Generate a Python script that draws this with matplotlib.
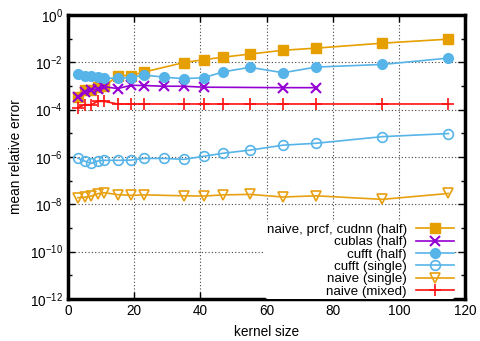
import matplotlib
matplotlib.use("Agg")
import matplotlib.pyplot as plt
import numpy as np

plt.rcParams['font.family'] = ['Liberation Sans', 'DejaVu Sans']
plt.rcParams['mathtext.fontset'] = 'custom'
plt.rcParams['mathtext.rm'] = 'Liberation Sans'

# kernel sizes
k_half = [3, 5, 7, 9, 11, 15, 19, 23, 35, 41, 47, 55, 65, 75, 95, 115]
log_half = [-3.48, -3.16, -3.16, -3.06, -3.02, -2.56, -2.56, -2.41, -2.01, -1.89,
            -1.78, -1.65, -1.49, -1.40, -1.19, -1.02]

k_cublas = [3, 5, 7, 9, 11, 15, 19, 23, 29, 35, 41, 65, 75]
log_cublas = [-3.48, -3.25, -3.16, -3.13, -3.03, -3.11, -2.97, -2.98, -3.01, -3.01,
              -3.05, -3.07, -3.07]

k_fft = [3, 5, 7, 9, 11, 15, 19, 23, 29, 35, 41, 47, 55, 65, 75, 95, 115]
log_fft_half = [-2.50, -2.56, -2.56, -2.61, -2.67, -2.67, -2.65, -2.53, -2.63, -2.69,
                -2.65, -2.40, -2.21, -2.44, -2.20, -2.09, -1.82]
log_fft_single = [-6.05, -6.17, -6.27, -6.17, -6.14, -6.14, -6.13, -6.06, -6.06, -6.10,
                  -5.97, -5.84, -5.71, -5.50, -5.42, -5.14, -5.01]

k_naive = [3, 5, 7, 9, 11, 15, 19, 23, 35, 41, 47, 55, 65, 75, 95, 115]
log_naive_single = [-7.72, -7.70, -7.65, -7.55, -7.51, -7.59, -7.62, -7.60, -7.64, -7.65,
                    -7.60, -7.58, -7.69, -7.64, -7.79, -7.54]
log_naive_mixed = [-3.92, -3.79, -3.79, -3.65, -3.65, -3.76, -3.76, -3.76, -3.76, -3.76,
                   -3.76, -3.76, -3.76, -3.76, -3.76, -3.76]

labels = ["naive, prcf, cudnn (half)", "cublas (half)", "cufft (half)",
          "cufft (single)", "naive (single)", "naive (mixed)"]

fs = 9.8
lfs = 9.6
fig = plt.figure(figsize=(4.81, 3.41), dpi=100)
ax = fig.add_axes([68/481, 1-299/341, (465-68)/481, (299-15)/341])

lw = 1.2
ax.plot(k_half, 10**np.array(log_half), color='#E69F00', marker='s', ms=7, lw=lw, label=labels[0])
ax.plot(k_cublas, 10**np.array(log_cublas), color='#9400D3', marker='x', ms=7, mew=1.5, lw=lw, label=labels[1])
ax.plot(k_fft, 10**np.array(log_fft_half), color='#56B4E9', marker='o', ms=7, lw=lw, label=labels[2])
ax.plot(k_fft, 10**np.array(log_fft_single), color='#56B4E9', marker='o', ms=7, mfc='none', mew=1.2, lw=lw, label=labels[3])
ax.plot(k_naive, 10**np.array(log_naive_single), color='#E8A010', marker='v', ms=7, mfc='none', mew=1.2, lw=lw, label=labels[4])
ax.plot(k_naive, 10**np.array(log_naive_mixed), color='#FF1010', marker='+', ms=9, mew=1.2, lw=lw, label=labels[5])

ax.set_yscale('log')
ax.set_xlim(0, 120)
ax.set_ylim(1e-12, 1)
ax.set_xticks([0, 20, 40, 60, 80, 100, 120])
yt = [10.0**e for e in range(-12, 1, 2)]
ax.set_yticks(yt)
ax.set_yticklabels([r'$\mathregular{10^{%d}}$' % e for e in range(-12, 1, 2)])
ax.set_yticks([10.0**e for e in range(-11, 0, 2)], minor=True)
ax.set_yticklabels([], minor=True)
ax.tick_params(which='both', direction='in', top=True, right=True, labelsize=fs, width=1.0)
ax.tick_params(which='major', length=5)
ax.tick_params(which='minor', length=3)
for s in ax.spines.values():
    s.set_linewidth(2.5)

ax.grid(True, which='major', color='#404040', linestyle=(0, (1, 2)), linewidth=0.8)
ax.set_axisbelow(True)

ax.set_xlabel('kernel size', fontsize=fs, labelpad=5)
ax.set_ylabel('mean relative error', fontsize=fs, labelpad=5)

leg = ax.legend(loc='lower right', bbox_to_anchor=(0.975, 0.0), markerfirst=False, frameon=True,
                fontsize=lfs, handlelength=2.8, handletextpad=0.7, labelspacing=0.0,
                borderaxespad=0.0, borderpad=0.1)
leg.get_frame().set_edgecolor('none')
leg.get_frame().set_facecolor('white')
leg.get_frame().set_alpha(1.0)
leg._legend_box.align = 'right'

fig.savefig('out.png', dpi=100)
